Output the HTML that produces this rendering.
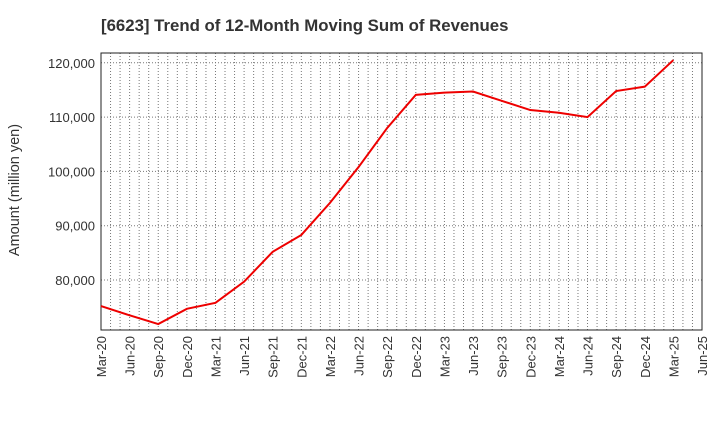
<!DOCTYPE html>
<html><head><meta charset="utf-8"><style>
body{margin:0;background:#fff;font-family:"Liberation Sans",sans-serif;}
</style></head><body>
<svg id="chart" width="720" height="440" xmlns="http://www.w3.org/2000/svg">
<text x="101" y="31" font-size="16.8" font-weight="bold" fill="#333">[6623]  Trend of 12-Month Moving Sum of Revenues</text>
<text transform="translate(19,190) rotate(-90)" text-anchor="middle" font-size="14.5" fill="#333">Amount (million yen)</text>
<g id="grid"></g><g id="axes"></g><g id="series"></g>
</svg>
<script>
const categories=["Mar-20","Jun-20","Sep-20","Dec-20","Mar-21","Jun-21","Sep-21","Dec-21","Mar-22","Jun-22","Sep-22","Dec-22","Mar-23","Jun-23","Sep-23","Dec-23","Mar-24","Jun-24","Sep-24","Dec-24","Mar-25","Jun-25"];
const revenues=[75200,73500,71900,74700,75800,79700,85200,88300,94200,100800,108000,114100,114500,114700,113000,111300,110800,110000,114800,115600,120500];
const yTicks=[80000,90000,100000,110000,120000];
const L=101,R=702,T=53,B=330,yMin=70800,yMax=121800;
const ns="http://www.w3.org/2000/svg";
const xS=i=>L+(R-L)*i/(categories.length-1);
const yS=v=>B-(v-yMin)/(yMax-yMin)*(B-T);
function mk(tag,attrs,parent){const e=document.createElementNS(ns,tag);for(const k in attrs)e.setAttribute(k,attrs[k]);document.getElementById(parent).appendChild(e);return e;}
const nM=(categories.length-1)*3;
for(let m=1;m<nM;m++){const x=L+(R-L)*m/nM;const g=mk('line',{x1:x,x2:x,y1:T,y2:B,stroke:'#777','stroke-width':1,'stroke-dasharray':'1,2'},'grid');

}
yTicks.forEach(v=>{const y=yS(v);const g=mk('line',{x1:L,x2:R,y1:y,y2:y,stroke:'#777','stroke-width':1,'stroke-dasharray':'1,2'},'grid');


const t=mk('text',{x:L-6,y:y+5,'text-anchor':'end','font-size':13,fill:'#333'},'axes');t.textContent=v.toLocaleString('en-US');

});
categories.forEach((c,i)=>{const x=xS(i);const t=mk('text',{transform:`translate(${x+5},${B+6}) rotate(-90)`,'text-anchor':'end','font-size':13,fill:'#333'},'axes');t.textContent=c;

});
const frame=mk('rect',{x:L,y:T,width:R-L,height:B-T,fill:'none',stroke:'#222','stroke-width':1},'axes');


const line=mk('polyline',{points:revenues.map((v,i)=>xS(i)+','+yS(v)).join(' '),fill:'none',stroke:'#e00','stroke-width':2},'series');


</script>
</body></html>
